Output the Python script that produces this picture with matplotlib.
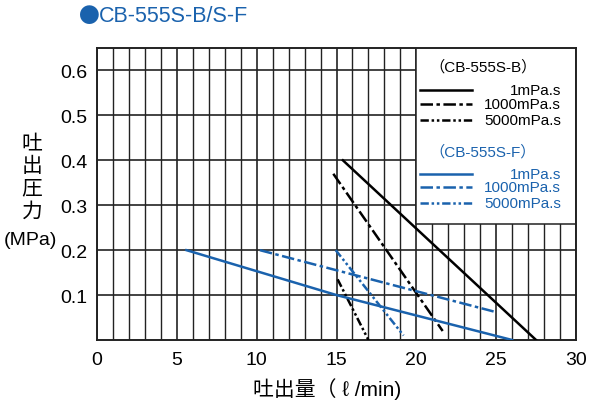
import numpy as np
import matplotlib
matplotlib.use('Agg')
import matplotlib.pyplot as plt
from matplotlib.patches import Rectangle

plt.rcParams['font.family'] = ['Liberation Sans', 'Noto Sans CJK JP', 'DejaVu Sans']
plt.rcParams['lines.scale_dashes'] = False

BLUE = '#1a62ad'

# flow (l/min) vs pressure (MPa) curves
b_1_x = [15.4, 27.5]
b_1_y = [0.40, 0.0]
b_1000_x = [14.8, 21.65]
b_1000_y = [0.37, 0.02]
b_5000_x = [15.07, 17.0]
b_5000_y = [0.135, 0.0]

f_1_x = [5.6, 15.0, 26.0]
f_1_y = [0.20, 0.10, 0.0]
f_1000_x = [10.2, 25.0]
f_1000_y = [0.20, 0.062]
f_5000_x = [14.95, 19.2]
f_5000_y = [0.20, 0.01]

x_ticks = [0, 5, 10, 15, 20, 25, 30]
y_ticks = [0.1, 0.2, 0.3, 0.4, 0.5, 0.6]
visc_labels = ['1mPa.s', '1000mPa.s', '5000mPa.s']

LS_SOLID = '-'
LS_DASHDOT = (0, (9, 2.5, 2.5, 2.5))
LS_DASHDOTDOT = (0, (6, 2, 1.8, 2, 1.8, 2))
styles = [LS_SOLID, LS_DASHDOT, LS_DASHDOTDOT]

W, H = 591, 406
fig = plt.figure(figsize=(W / 100, H / 100), dpi=100)
ax = fig.add_axes([97 / W, 1 - 341 / H, 479 / W, 292 / H])

ax.set_xlim(0, 30)
ax.set_ylim(0, 0.65)
ax.set_xticks(x_ticks)
ax.set_xticks(np.arange(0, 31, 1), minor=True)
ax.set_yticks(y_ticks)
ax.set_xticklabels([str(t) for t in x_ticks], fontsize=14)
ax.set_yticklabels([f'{t:.1f}' for t in y_ticks], fontsize=14)
ax.tick_params(which='both', length=0)
ax.tick_params(axis='x', pad=8)
ax.tick_params(axis='y', pad=7)
ax.grid(True, which='major', color='#222222', linewidth=1.2)
ax.grid(True, which='minor', axis='x', color='#222222', linewidth=1.0)
ax.set_axisbelow(True)
for s in ax.spines.values():
    s.set_linewidth(1.4)
    s.set_color('#222222')

# legend box covers the grid
ax.add_patch(Rectangle((20.0, 0.258), 10.0, 0.4, facecolor='white',
                       edgecolor='#222222', linewidth=1.1, zorder=2))

lw = 1.8
for xs, ys, ls in [(b_1_x, b_1_y, LS_SOLID), (b_1000_x, b_1000_y, LS_DASHDOT),
                   (b_5000_x, b_5000_y, LS_DASHDOTDOT)]:
    ax.plot(xs, ys, color='black', linestyle=ls, linewidth=lw, zorder=3)
for xs, ys, ls in [(f_1_x, f_1_y, LS_SOLID), (f_1000_x, f_1000_y, LS_DASHDOT),
                   (f_5000_x, f_5000_y, LS_DASHDOTDOT)]:
    ax.plot(xs, ys, color=BLUE, linestyle=ls, linewidth=lw, zorder=3)


def px(x, y):
    return x / W, 1 - y / H


# manual legend
fig.text(*px(483, 67), '（CB-555S-B）', fontsize=11, ha='center', va='center')
fig.text(*px(483, 152), '（CB-555S-F）', fontsize=11, ha='center', va='center', color=BLUE)
for ys, col in [((91, 105, 121), 'black'), ((175, 188, 204), BLUE)]:
    for y, lab, ls in zip(ys, visc_labels, styles):
        x0, y0 = px(420, y)
        x1, _ = px(472, y)
        fig.add_artist(plt.Line2D([x0, x1], [y0, y0], color=col, linestyle=ls,
                                  linewidth=lw, transform=fig.transFigure))
        fig.text(*px(561, y), lab, fontsize=11, ha='right', va='center', color=col)

# title
fig.text(*px(89, 17), '●', fontsize=15, color=BLUE, ha='center', va='center',
         family=['Noto Sans CJK JP'])
fig.text(*px(99, 17), 'CB-555S-B/S-F', fontsize=15.5, color=BLUE, ha='left', va='center')

# axis labels
fig.text(*px(253, 389), '吐出量（ ℓ /min)', fontsize=15, ha='left', va='center')
for ch, y in zip('吐出圧力', [144, 166, 189, 212]):
    fig.text(*px(32, y), ch, fontsize=15, ha='center', va='center')
fig.text(*px(30, 241), '(MPa)', fontsize=14, ha='center', va='center')

fig.savefig('out.png', dpi=100)
